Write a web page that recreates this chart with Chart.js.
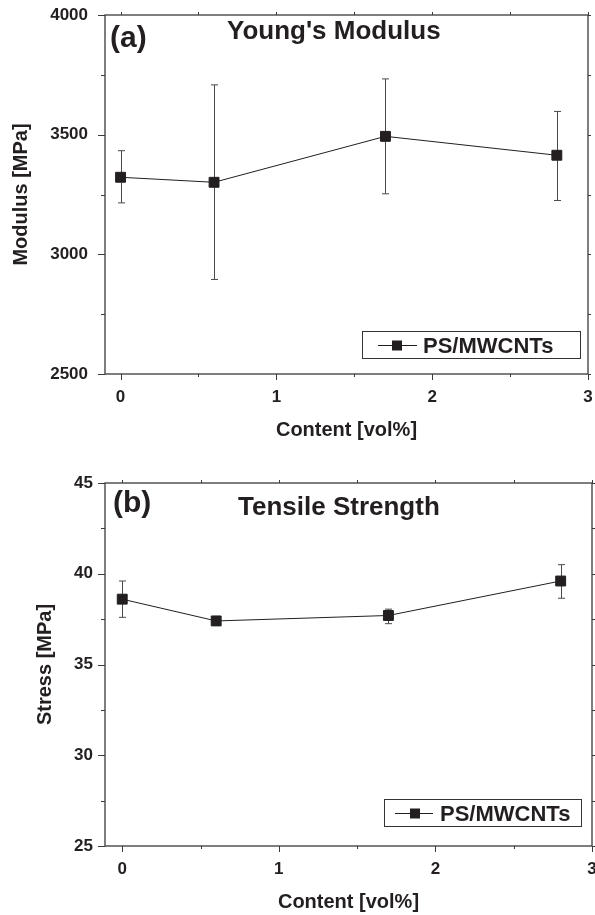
<!DOCTYPE html>
<html>
<head>
<meta charset="utf-8">
<script src="https://cdn.jsdelivr.net/npm/chart.js@4.4.1/dist/chart.umd.min.js"></script>
<style>
    html, body { margin: 0; padding: 0; background: #fff; overflow: hidden; }
    #wrap { position: relative; width: 595px; height: 915px; overflow: hidden; }
    #chartA { position: absolute; left: 0; top: 0; }
    #chartB { position: absolute; left: 0; top: 440px; }
</style>
</head>
<body>
<div id="wrap">
    <canvas id="chartA" width="600" height="450"></canvas>
    <canvas id="chartB" width="600" height="475"></canvas>
</div>
<script>
// data
var contentVol = [0, 0.6, 1.7, 2.8];

var modulus = [3322, 3301, 3493, 3414];
var modulusHigh = [3433, 3708, 3733, 3597];
var modulusLow = [3215, 2895, 3253, 3225];

var stress = [38.6, 37.4, 37.7, 39.6];
var stressHigh = [39.6, 37.65, 38.05, 40.5];
var stressLow = [37.6, 37.15, 37.25, 38.65];

var xTicks = [0, 1, 2, 3];
var xMinorTicks = [0.5, 1.5, 2.5];
var modulusTicks = [2500, 3000, 3500, 4000];
var modulusMinorTicks = [2750, 3250, 3750];
var stressTicks = [25, 30, 35, 40, 45];
var stressMinorTicks = [27.5, 32.5, 37.5, 42.5];

var seriesName = 'PS/MWCNTs';
var ink = '#231f20';
var axisInk = '#3a3a3a';
var fontFamily = "'Liberation Sans', Arial, Helvetica, sans-serif";

var figureDecor = {
    id: 'figureDecor',
    beforeDatasetsDraw: function(chart, args, opts) {
        var ctx = chart.ctx;
        var xs = chart.scales.x, ys = chart.scales.y;
        ctx.save();
        ctx.strokeStyle = '#4a4a4a';
        ctx.lineWidth = 1;
        for (var i = 0; i < opts.xValues.length; i++) {
            var px = Math.round(xs.getPixelForValue(opts.xValues[i])) + 0.5;
            var top = ys.getPixelForValue(opts.high[i]);
            var bot = ys.getPixelForValue(opts.low[i]);
            ctx.beginPath();
            ctx.moveTo(px, top); ctx.lineTo(px, bot);
            ctx.moveTo(px - 3.5, top); ctx.lineTo(px + 3.5, top);
            ctx.moveTo(px - 3.5, bot); ctx.lineTo(px + 3.5, bot);
            ctx.stroke();
        }
        ctx.restore();
    },
    afterDraw: function(chart, args, opts) {
        var ctx = chart.ctx;
        var area = chart.chartArea;
        var xs = chart.scales.x, ys = chart.scales.y;
        ctx.save();

        // frame
        ctx.strokeStyle = axisInk;
        ctx.lineWidth = 1.3;
        ctx.strokeRect(area.left, area.top, area.right - area.left, area.bottom - area.top);

        // tick marks on all four sides
        ctx.lineWidth = 1;
        ctx.beginPath();
        function xTick(v, len) {
            var px = Math.round(xs.getPixelForValue(v)) + 0.5;
            ctx.moveTo(px, area.bottom); ctx.lineTo(px, area.bottom + len);
            ctx.moveTo(px, area.top); ctx.lineTo(px, area.top - 3);
        }
        function yTick(v, len) {
            var py = Math.round(ys.getPixelForValue(v)) + 0.5;
            ctx.moveTo(area.left, py); ctx.lineTo(area.left - len, py);
            ctx.moveTo(area.right, py); ctx.lineTo(area.right + 3, py);
        }
        xTicks.forEach(function(v) { xTick(v, 6); });
        xMinorTicks.forEach(function(v) { xTick(v, 3); });
        opts.yTicks.forEach(function(v) { yTick(v, 7); });
        opts.yMinor.forEach(function(v) { yTick(v, 4); });
        ctx.stroke();

        // panel letter and title
        ctx.fillStyle = ink;
        ctx.textBaseline = 'alphabetic';
        ctx.textAlign = 'left';
        ctx.font = 'bold 30px ' + fontFamily;
        ctx.fillText(opts.letter, area.left + opts.letterPos[0], area.top + opts.letterPos[1]);
        ctx.font = 'bold 26px ' + fontFamily;
        ctx.fillText(opts.title, area.left + opts.titlePos[0], area.top + opts.titlePos[1]);

        // legend box
        var lg = opts.legend;
        var bx = area.right - lg.right - lg.width;
        var by = area.bottom - lg.bottom - lg.height;
        ctx.fillStyle = '#fff';
        ctx.fillRect(bx, by, lg.width, lg.height);
        ctx.strokeStyle = '#333';
        ctx.lineWidth = 1;
        ctx.strokeRect(Math.round(bx) + 0.5, Math.round(by) + 0.5, lg.width, lg.height);
        var midY = Math.round(by + lg.height / 2) + 0.5;
        ctx.strokeStyle = ink;
        ctx.beginPath();
        ctx.moveTo(bx + lg.lineFrom, midY); ctx.lineTo(bx + lg.lineTo, midY);
        ctx.stroke();
        ctx.fillStyle = ink;
        ctx.fillRect(bx + lg.marker - 5, midY - 5, 10, 10);
        ctx.font = 'bold 22px ' + fontFamily;
        ctx.textBaseline = 'middle';
        ctx.fillText(seriesName, bx + lg.text, midY + 1);

        ctx.restore();
    }
};

function noOverhang(s) {
    s.paddingTop = 0;
    s.paddingBottom = 0;
    s.paddingLeft = 0;
    s.paddingRight = 0;
}

function buildPanel(canvasId, values, setup) {
    var points = contentVol.map(function(x, i) { return { x: x, y: values[i] }; });
    var ctx = document.getElementById(canvasId).getContext('2d');
    return new Chart(ctx, {
        type: 'line',
        data: {
            datasets: [{
                label: seriesName,
                data: points,
                borderColor: ink,
                borderWidth: 1,
                pointStyle: 'rect',
                pointRadius: 7,
                pointBackgroundColor: ink,
                pointBorderColor: ink,
                pointBorderWidth: 1,
                fill: false,
                tension: 0
            }]
        },
        options: {
            responsive: false,
            animation: false,
            layout: { padding: setup.padding },
            scales: {
                x: {
                    type: 'linear',
                    min: setup.xMin,
                    max: 3,
                    afterBuildTicks: function(s) { s.ticks = xTicks.map(function(v) { return { value: v }; }); },
                    afterFit: function(s) { s.height = setup.xAxisHeight; noOverhang(s); },
                    grid: { display: false, drawTicks: false },
                    border: { display: false },
                    ticks: {
                        padding: 13,
                        color: ink,
                        font: { family: fontFamily, size: 17, weight: 'bold' },
                        callback: function(v) { return String(v); }
                    },
                    title: {
                        display: true,
                        text: 'Content [vol%]',
                        color: ink,
                        font: { family: fontFamily, size: 20, weight: 'bold' },
                        padding: { top: 0, bottom: setup.xTitlePad }
                    }
                },
                y: {
                    type: 'linear',
                    min: setup.yTicks[0],
                    max: setup.yTicks[setup.yTicks.length - 1],
                    afterBuildTicks: function(s) { s.ticks = setup.yTicks.map(function(v) { return { value: v }; }); },
                    afterFit: function(s) { s.width = 105; noOverhang(s); },
                    grid: { display: false, drawTicks: false },
                    border: { display: false },
                    ticks: {
                        padding: setup.yLabelPad,
                        color: ink,
                        font: { family: fontFamily, size: 17, weight: 'bold' },
                        callback: function(v) { return String(v); }
                    },
                    title: {
                        display: true,
                        text: setup.yTitle,
                        color: ink,
                        font: { family: fontFamily, size: 20, weight: 'bold' },
                        padding: { top: setup.yTitlePad, bottom: 0 }
                    }
                }
            },
            plugins: {
                legend: { display: false },
                tooltip: { enabled: false },
                figureDecor: {
                    xValues: contentVol,
                    high: setup.high,
                    low: setup.low,
                    yTicks: setup.yTicks,
                    yMinor: setup.yMinor,
                    letter: setup.letter,
                    letterPos: setup.letterPos,
                    title: setup.title,
                    titlePos: setup.titlePos,
                    legend: setup.legend
                }
            }
        },
        plugins: [figureDecor]
    });
}

buildPanel('chartA', modulus, {
    padding: { left: 0, top: 15, right: 12, bottom: 0 },
    xMin: -0.1,
    xAxisHeight: 76,
    xTitlePad: 8,
    yTicks: modulusTicks,
    yMinor: modulusMinorTicks,
    yLabelPad: 17,
    yTitle: 'Modulus [MPa]',
    yTitlePad: 9,
    high: modulusHigh,
    low: modulusLow,
    letter: '(a)',
    letterPos: [5, 32],
    title: "Young's Modulus",
    titlePos: [122, 24],
    legend: { right: 8, bottom: 16, width: 218, height: 27, lineFrom: 16, lineTo: 55, marker: 35, text: 61 }
});

buildPanel('chartB', stress, {
    padding: { left: 0, top: 43, right: 8, bottom: 0 },
    xMin: -0.11,
    xAxisHeight: 69,
    xTitlePad: 1,
    yTicks: stressTicks,
    yMinor: stressMinorTicks,
    yLabelPad: 12,
    yTitle: 'Stress [MPa]',
    yTitlePad: 33,
    high: stressHigh,
    low: stressLow,
    letter: '(b)',
    letterPos: [8, 29],
    title: 'Tensile Strength',
    titlePos: [133, 32],
    legend: { right: 11, bottom: 20, width: 197, height: 27, lineFrom: 11, lineTo: 49, marker: 31, text: 56 }
});
</script>
</body>
</html>
